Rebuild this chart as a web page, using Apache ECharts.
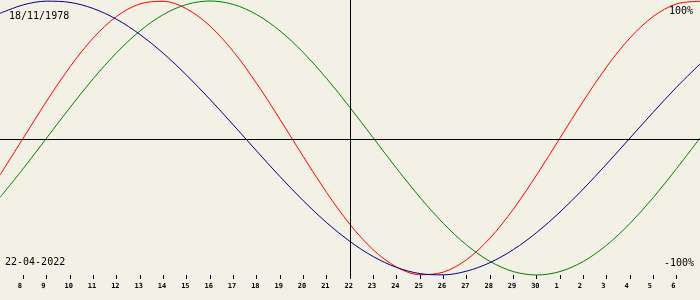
<!DOCTYPE html>
<html><head><meta charset="utf-8">
<script src="https://cdn.jsdelivr.net/npm/echarts@6/dist/echarts.min.js"></script>
<style>html,body{margin:0;padding:0;background:#f3f0e5}#c{width:700px;height:300px}</style>
</head><body><div id="c"></div><script>
// Day index 0 = 7 April 2022 ... 30 = 7 May 2022
const days = [0,1,2,3,4,5,6,7,8,9,10,11,12,13,14,15,16,17,18,19,20,21,22,23,24,25,26,27,28,29,30];
const dayLabels = ['7','8','9','10','11','12','13','14','15','16','17','18','19','20','21','22','23','24','25','26','27','28','29','30','1','2','3','4','5','6','7'];
const tickDays = [1,2,3,4,5,6,7,8,9,10,11,12,13,14,15,16,17,18,19,20,21,22,23,24,25,26,27,28,29];
const physical = [-0.2698,0,0.2698,0.5196,0.7308,0.8879,0.9791,0.9977,0.9423,0.8170,0.6311,0.3984,0.1362,-0.1362,-0.3984,-0.6311,-0.8170,-0.9423,-0.9977,-0.9791,-0.8879,-0.7308,-0.5196,-0.2698,0,0.2698,0.5196,0.7308,0.8879,0.9791,0.9977];
const emotional = [-0.4339,-0.2225,0,0.2225,0.4339,0.6235,0.7818,0.9010,0.9749,1,0.9749,0.9010,0.7818,0.6235,0.4339,0.2225,0,-0.2225,-0.4339,-0.6235,-0.7818,-0.9010,-0.9749,-1,-0.9749,-0.9010,-0.7818,-0.6235,-0.4339,-0.2225,0];
const intellectual = [0.9096,0.9718,0.9989,0.9898,0.9450,0.8660,0.7557,0.6182,0.4582,0.2817,0.0951,-0.0951,-0.2817,-0.4582,-0.6182,-0.7557,-0.8660,-0.9450,-0.9898,-0.9989,-0.9718,-0.9096,-0.8146,-0.6901,-0.5406,-0.3717,-0.1893,0,0.1893,0.3717,0.5406];
const birthDate = '18/11/1978';
const currentDate = '22-04-2022';
const todayIndex = 15;
const topLabel = '100%';
const bottomLabel = '-100%';

const pairs = arr => days.map((d, i) => [d, arr[i]]);
const mono = 'DejaVu Sans Mono';
const labelShift = 0.236; // labels start a few pixels left of their tick
const chart = echarts.init(document.getElementById('c'));
chart.setOption({
  backgroundColor: '#f3f0e5',
  animation: false,
  title: [
    {text: birthDate, left: 9, top: 11, padding: 0, textStyle: {fontFamily: mono, fontSize: 10, fontWeight: 'normal', color: '#000'}},
    {text: currentDate, left: 5, top: 257, padding: 0, textStyle: {fontFamily: mono, fontSize: 10, fontWeight: 'normal', color: '#000'}},
    {text: topLabel, right: 7, top: 6, padding: 0, textStyle: {fontFamily: mono, fontSize: 10, fontWeight: 'normal', color: '#000'}},
    {text: bottomLabel, right: 6, top: 258, padding: 0, textStyle: {fontFamily: mono, fontSize: 10, fontWeight: 'normal', color: '#000'}}
  ],
  grid: [
    {left: 0, width: 700, top: 0, height: 278},
    {left: 0, width: 700, top: 0, height: 275}
  ],
  xAxis: [
    {gridIndex: 0, type: 'value', min: 0, max: 30, interval: 1, offset: -3,
     axisLine: {show: false, onZero: false}, splitLine: {show: false},
     axisTick: {show: true, length: 4, inside: false, customValues: tickDays, lineStyle: {color: '#000', width: 1}},
     axisLabel: {show: false}},
    {gridIndex: 1, type: 'value', min: labelShift, max: 30 + labelShift,
     axisLine: {show: false, onZero: false}, splitLine: {show: false}, axisTick: {show: false},
     axisLabel: {show: true, customValues: tickDays, margin: 8, align: 'left', fontFamily: mono, fontSize: 7, fontWeight: 'bold', color: '#000',
       showMinLabel: true, showMaxLabel: true,
       formatter: v => dayLabels[Math.round(v)]}}
  ],
  yAxis: [
    {gridIndex: 0, type: 'value', min: -1.0219, max: 1.0073, show: false, splitLine: {show: false}},
    {gridIndex: 1, type: 'value', min: 0, max: 1, show: false, splitLine: {show: false}}
  ],
  series: [
    {type: 'line', xAxisIndex: 0, yAxisIndex: 0, data: pairs(physical), smooth: 0.33, showSymbol: false,
     lineStyle: {color: '#ff0000', width: 1}, itemStyle: {color: '#ff0000'},
     markLine: {silent: true, symbol: 'none', label: {show: false}, lineStyle: {color: '#000', width: 1, type: 'solid'},
       data: [{xAxis: todayIndex}, {yAxis: -0.0146}]}},
    {type: 'line', xAxisIndex: 0, yAxisIndex: 0, data: pairs(emotional), smooth: 0.33, showSymbol: false,
     lineStyle: {color: '#008000', width: 1}, itemStyle: {color: '#008000'}},
    {type: 'line', xAxisIndex: 0, yAxisIndex: 0, data: pairs(intellectual), smooth: 0.33, showSymbol: false,
     lineStyle: {color: '#000080', width: 1}, itemStyle: {color: '#000080'}}
  ]
});
</script></body></html>
